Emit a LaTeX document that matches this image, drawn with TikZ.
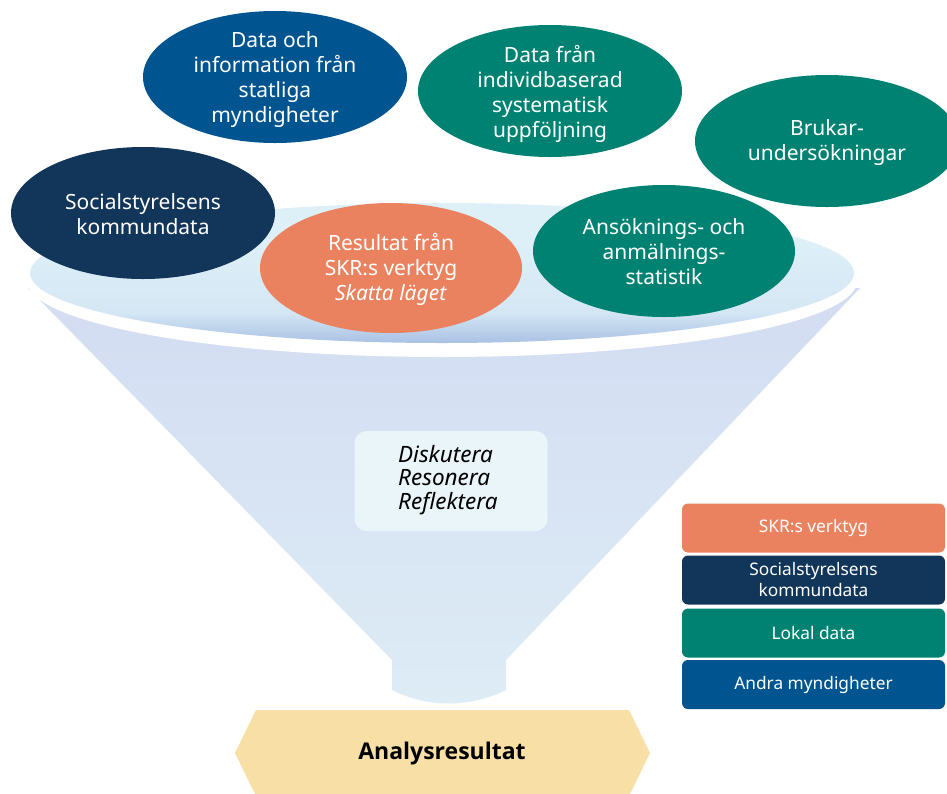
\documentclass[tikz,border=0pt]{standalone}
\usepackage{fontspec}
\setmainfont{Noto Sans}
\newfontfamily\boldsans{Open Sans}
\usetikzlibrary{shapes.geometric}
\definecolor{cblue}{RGB}{0,85,145}
\definecolor{cteal}{RGB}{0,130,115}
\definecolor{cnavy}{RGB}{18,53,90}
\definecolor{csalmon}{RGB}{235,130,95}
\definecolor{cgold}{RGB}{248,223,165}
\definecolor{ctopA}{RGB}{221,239,247}
\definecolor{ctopB}{RGB}{212,231,244}
\definecolor{ctopC}{RGB}{170,193,228}
\definecolor{conA}{RGB}{211,220,242}
\definecolor{conB}{RGB}{221,236,245}
\definecolor{cbox}{RGB}{233,245,248}
\pgfdeclareverticalshading{topsurf}{100bp}{color(0bp)=(ctopC); color(25bp)=(ctopC); color(36bp)=(ctopB); color(60bp)=(ctopA); color(100bp)=(ctopA)}
\begin{document}
\begin{tikzpicture}[x=1pt,y=-1pt,
  blob/.style={ellipse, inner sep=0pt, minimum width=264pt, minimum height=132pt,
    fill=none},
  blobtext/.style={inner sep=0pt, text=white, align=center, font=\fontsize{21}{25}\selectfont},
  legbox/.style={rounded corners=6pt, minimum width=263pt, minimum height=49pt,
    inner sep=0pt, text=white, align=center, font=\fontsize{17.3}{21}\selectfont}]
\useasboundingbox (0,0) rectangle (947,793);
\begin{scope}
\clip (0,0) rectangle (947,793);
% funnel cone
\path[shading=axis, top color=conA, bottom color=conB]
  (28,288) -- (392,660) -- (392,690) .. controls (428,708) and (470,708) .. (506,690)
  -- (506,660) -- (860,288) -- cycle;
% white rim
\fill[white] (442,281) ellipse [x radius=415, y radius=76];
% top surface
\path[shading=topsurf]
  (442,273) ellipse [x radius=412, y radius=70];
% middle box
\node[fill=cbox, rounded corners=12pt, minimum width=193pt, minimum height=100pt,
  inner sep=0pt] (mid) at (451,481) {};
\node[align=left, inner sep=0pt, anchor=west, font=\fontsize{22.5}{23.5}\selectfont\itshape] (midtxt) at (398,480)
  {Diskutera\\Resonera\\Reflektera};
% blobs
\node[blob, fill=cblue] (statliga) at (275,77) {};
\node[blobtext] at ([yshift=-3pt]statliga.center) {Data och\\information från\\statliga\\myndigheter};
\node[blob, fill=cteal] (individ) at (550,91) {};
\node[blobtext] at ([yshift=-3pt]individ.center) {Data från\\individbaserad\\systematisk\\uppföljning};
\node[blob, fill=cteal] (brukar) at (827,141) {};
\node[blobtext] at ([yshift=-2pt]brukar.center) {Brukar-\\undersökningar};
\node[blob, fill=cnavy] (social) at (143,213) {};
\node[blobtext] at ([yshift=-1pt]social.center) {Socialstyrelsens\\kommundata};
\node[blob, fill=csalmon, minimum width=262pt, minimum height=130pt] (skr) at (391,268) {};
\node[blobtext] at ([yshift=-1pt]skr.center) {Resultat från\\SKR:s verktyg\\\textit{Skatta läget}};
\node[blob, fill=cteal, minimum width=262pt] (ansok) at (664,251) {};
\node[blobtext] at ([yshift=-1pt]ansok.center) {Ansöknings- och\\anmälnings-\\statistik};
% legend
\node[legbox, fill=csalmon] (l1) at (813.5,528) {SKR:s verktyg};
\node[legbox, fill=cnavy] (l2) at (813.5,580) {Socialstyrelsens\\kommundata};
\node[legbox, fill=cteal] (l3) at (813.5,633) {Lokal data};
\node[legbox, fill=cblue] (l4) at (813.5,684.5) {Andra myndigheter};
% result hexagon
\fill[cgold] (235,753) -- (256,710) -- (629,710) -- (650,753) -- (629,796) -- (256,796) -- cycle;
\node[font=\boldsans\fontsize{23}{28}\selectfont\bfseries] (res) at (442,754) {Analysresultat};
\end{scope}
\end{tikzpicture}
\end{document}
